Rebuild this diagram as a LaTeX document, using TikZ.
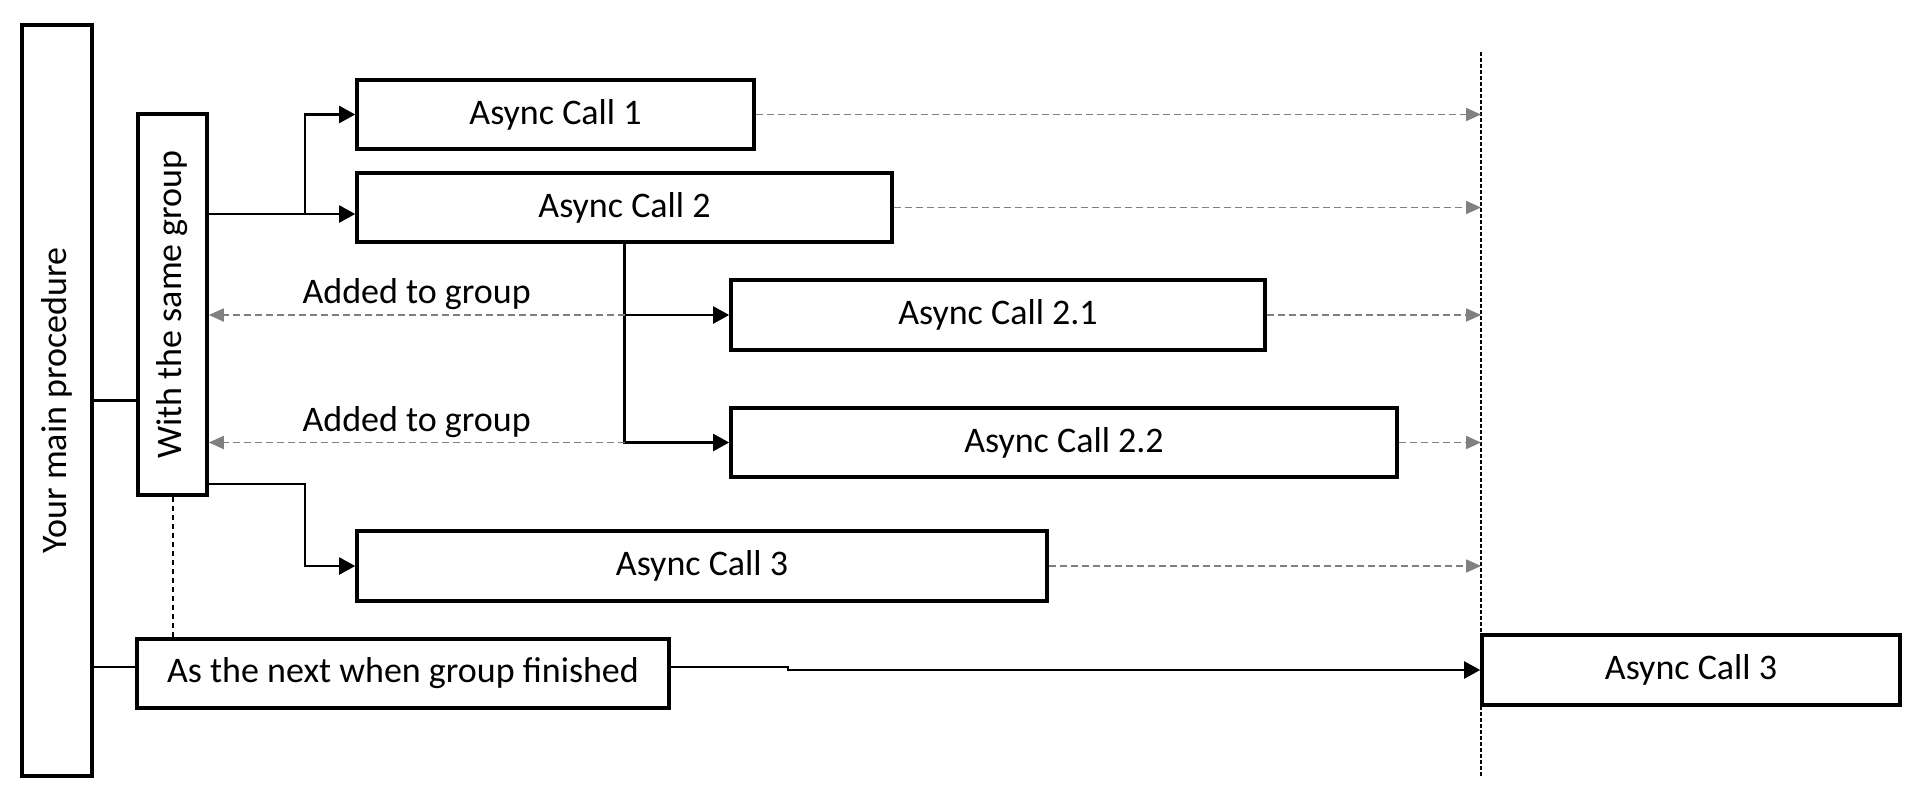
\documentclass[tikz,border=0pt]{standalone}
\usepackage{fontspec}
\setmainfont{Carlito}
\usetikzlibrary{arrows.meta,calc}
\definecolor{gline}{RGB}{128,128,128}
\begin{document}
\begin{tikzpicture}[x=0.5pt,y=-0.5pt,
  box/.style={draw=black,line width=1.8pt,fill=white,inner sep=0pt,font=\fontsize{18}{22}\selectfont},
  txt/.style={inner sep=0pt,font=\fontsize{18}{22}\selectfont},
  plain/.style={line width=1.1pt},
  conn/.style={line width=1.1pt,-{Triangle[length=8pt,width=8.5pt]}},
  gconn/.style={draw=gline,line width=0.9pt,dash pattern=on 3.5pt off 2pt,-{Triangle[length=7.5pt,width=6.5pt]}},
  vdash/.style={line width=1pt,dash pattern=on 2pt off 1pt},
  bdash/.style={line width=1pt,dash pattern=on 2.5pt off 2pt},
  lbl/.style={txt,midway,above=2pt}
]
\useasboundingbox (0,0) rectangle (1926,792);
\fill[white] (0,0) rectangle (1926,792);

\coordinate (vtop) at (1481,52);
\coordinate (vbot) at (1481,776);
\draw[vdash] (vtop) -- (vbot);

% boxes
\node[box,minimum width=35pt,minimum height=375.5pt] (main) at (57,400.5) {};
\node[txt,rotate=90] (mainlbl) at (main) {Your main procedure};
\node[box,minimum width=34.5pt,minimum height=190.5pt] (grp) at (172.5,304.5) {};
\node[txt,rotate=90] (grplbl) at (grp) {With the same group};
\node[box,minimum width=198.5pt,minimum height=34.5pt] (A1) at (555.5,114.5) {Async Call 1};
\node[box,minimum width=267.5pt,minimum height=34.5pt] (A2) at (624.5,207.5) {Async Call 2};
\node[box,minimum width=267pt,minimum height=35pt] (A21) at (998,315) {Async Call 2.1};
\node[box,minimum width=333pt,minimum height=34.5pt] (A22) at (1064,442.5) {Async Call 2.2};
\node[box,minimum width=345pt,minimum height=35pt] (A3) at (702,566) {Async Call 3};
\node[box,minimum width=266pt,minimum height=34.5pt] (Next) at (403,673.5) {As the next when group finished};
\node[box,minimum width=209pt,minimum height=35pt] (A3b) at (1691,670) {Async Call 3};

% main procedure links
\draw[plain] (main.east) -- (main.east -| grp.west);
\coordinate (nxA) at ($(Next.west)+(0,-6.5)$);
\draw[plain] (main.east |- nxA) -- (nxA);

% group to calls
\coordinate (a2in) at ($(A2.west)+(0,6.5)$);
\coordinate (g2) at (grp.east |- a2in);
\coordinate (br1) at ($(g2)+(96,0)$);
\draw[conn] (g2) -- (a2in);
\draw[conn] (br1) |- (A1.west);
\coordinate (g3) at ($(grp.south east)+(0,-13)$);
\draw[conn] (g3) -- (g3 -| br1) |- (A3.west);

% nested calls
\draw[conn] (A2.south) |- (A22.west);
\draw[conn] (A2.south |- A21.west) -- (A21.west);
\draw[gconn] (A2.south |- A21.west) -- node[lbl] (lab1) {Added to group} (grp.east |- A21.west);
\draw[gconn] (A2.south |- A22.west) -- node[lbl] (lab2) {Added to group} (grp.east |- A22.west);

% to the finish line
\draw[gconn] (A1.east) -- (A1.east -| vtop);
\draw[gconn] (A2.east) -- (A2.east -| vtop);
\draw[gconn] (A21.east) -- (A21.east -| vtop);
\draw[gconn] (A22.east) -- (A22.east -| vtop);
\draw[gconn] (A3.east) -- (A3.east -| vtop);

% next when finished
\draw[bdash] (grp.south) -- (grp.south |- Next.north);
\coordinate (nxB) at ($(Next.east)+(0,-6.5)$);
\draw[conn] (nxB) -- ++(117,0) |- (A3b.west);
\end{tikzpicture}
\end{document}
